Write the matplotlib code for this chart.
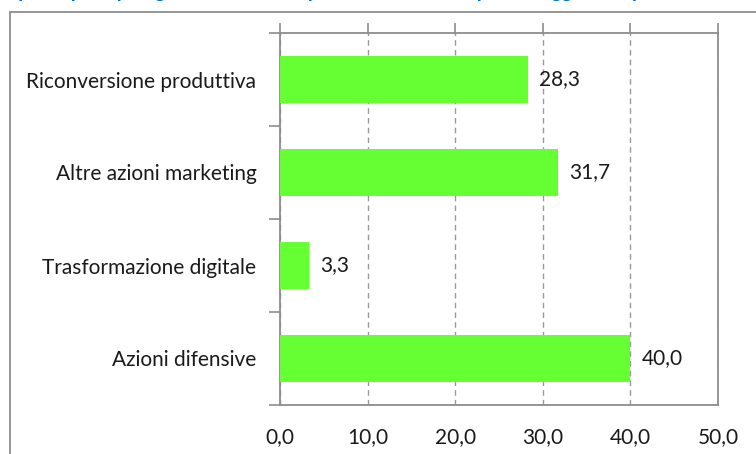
import matplotlib.pyplot as plt
import numpy as np
from matplotlib.patches import Rectangle

# Dati
categorie = ["Riconversione produttiva", "Altre azioni marketing",
             "Trasformazione digitale", "Azioni difensive"]
valori = [28.3, 31.7, 3.3, 40.0]
tick_x = [0, 10, 20, 30, 40, 50]
titolo = "Imprese per tipologia di azione intrapresa - Saldo netto per il maggiore impatto atteso"

plt.rcParams['font.family'] = ['Lato', 'DejaVu Sans']
grigio = '#8c8c8c'
verde = '#66FF33'
testo = '#1a1a1a'

fig = plt.figure(figsize=(7.56, 4.54), dpi=100)
ax = fig.add_axes([280 / 756, 49 / 454, 438 / 756, 372 / 454])

# cornice esterna del grafico
fig.patches.append(Rectangle((10 / 756, -0.1), 1.2, 1 - 12 / 454 + 0.1,
                             transform=fig.transFigure, fill=False,
                             edgecolor=grigio, lw=1.3))
# titolo (tagliato in alto)
fig.text(-0.005, 1 + 2 / 454, titolo, color='#0070C0', fontsize=14,
         fontweight='bold', va='baseline', ha='left')

y = np.arange(len(categorie))
ax.barh(y, valori, height=0.5, color=verde, zorder=3)
for yi, v in zip(y, valori):
    ax.text(v + 1.3, yi, f"{v:.1f}".replace('.', ','), va='center',
            ha='left', fontsize=15, color=testo)

ax.set_xlim(0, 50)
ax.set_ylim(len(categorie) - 0.5, -0.5)
ax.set_xticks(tick_x)
ax.set_xticklabels([f"{t:.1f}".replace('.', ',') for t in tick_x],
                   fontsize=15, color=testo)
ax.set_yticks(y)
ax.set_yticklabels(categorie, fontsize=15, color=testo)
ax.set_yticks(np.arange(-0.5, len(categorie)), minor=True)

ax.tick_params(axis='x', top=True, bottom=False, labeltop=False,
               labelbottom=True, direction='out', length=7, color=grigio,
               width=1.2, pad=9)
ax.tick_params(axis='y', which='major', length=0, pad=17)
ax.tick_params(axis='y', which='minor', length=8, color=grigio, width=1.2)

for s in ax.spines.values():
    s.set_color(grigio)
    s.set_linewidth(1.3)

ax.grid(axis='x', linestyle=(0, (4, 3)), color='#999999', lw=1.0, zorder=0)

fig.savefig('out.png', dpi=100)
